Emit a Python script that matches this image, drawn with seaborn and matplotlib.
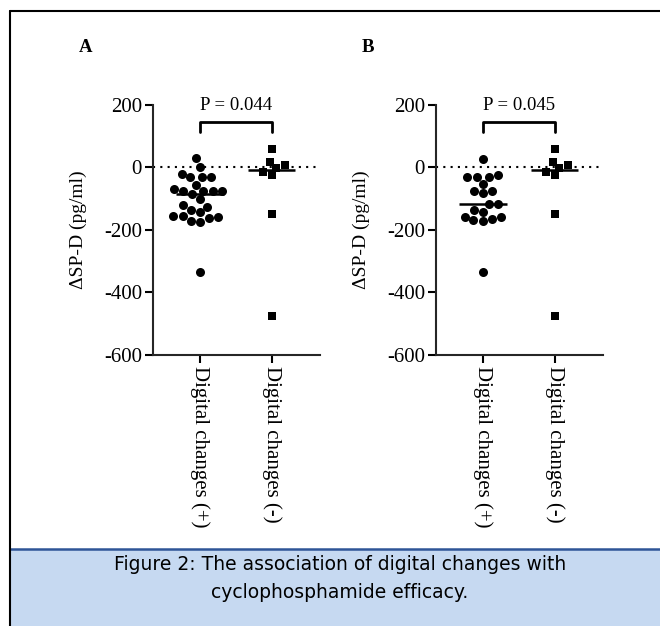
import numpy as np
import pandas as pd
import seaborn as sns
import matplotlib.pyplot as plt
from matplotlib.patches import Rectangle
from matplotlib.lines import Line2D

# categories and values (pg/ml)
groups = ['Digital changes (+)', 'Digital changes (-)']

a_pos = [29, 3, -22, -32, -32, -32, -55, -68, -74, -74, -74, -74, -86, -101,
         -119, -126, -137, -144, -154, -154, -160, -162, -170, -173, -333]
a_neg = [59, 18, 8, -1, -14, -25, -149, -475]

b_pos = [28, -23, -30, -30, -30, -52, -76, -76, -82, -116, -118, -135, -141,
         -157, -157, -165, -168, -170, -333]
b_neg = [59, 18, 8, -1, -14, -25, -149, -475]

p_labels = ['P = 0.044', 'P = 0.045']
panel_letters = ['A', 'B']
yticks = [-600, -400, -200, 0, 200]

sns.set_style('ticks')
plt.rcParams['font.family'] = ['Liberation Serif', 'DejaVu Serif']
plt.rcParams['axes.linewidth'] = 1.5
plt.rcParams['axes.unicode_minus'] = False
plt.rcParams['text.color'] = 'black'
plt.rcParams['axes.labelcolor'] = 'black'

W, H = 660, 626
fig = plt.figure(figsize=(W / 100, H / 100), dpi=100)


def draw_panel(ax, pos, neg, ptext):
    df = pd.DataFrame({'group': [groups[0]] * len(pos) + [groups[1]] * len(neg),
                       'value': pos + neg})
    sns.swarmplot(data=df[df.group == groups[0]], x='group', y='value', order=groups,
                  marker='o', color='black', size=6.5, ax=ax, zorder=3)
    sns.swarmplot(data=df[df.group == groups[1]], x='group', y='value', order=groups,
                  marker='s', color='black', size=6.3, ax=ax, zorder=3)
    # median lines
    for i, g in enumerate(groups):
        med = df.loc[df.group == g, 'value'].median()
        ax.hlines(med, i - 0.33, i + 0.33, color='black', lw=1.8, zorder=4)
    ax.axhline(0, color='black', ls=(0, (1, 2.5)), lw=1.5, zorder=1)

    # significance bracket
    ax.plot([0, 0, 1, 1], [113, 145, 145, 113], color='black', lw=2, clip_on=False)
    ax.text(0.5, 197, ptext, ha='center', va='center', fontsize=13.5, clip_on=False)

    ax.set_ylim(-600, 200)
    ax.set_yticks(yticks)
    ax.set_xlim(-0.655, 1.675)
    ax.set_xticks([0, 1])
    ax.set_xticklabels(groups, rotation=270)
    ax.set_xlabel('')
    ax.set_ylabel('\u0394SP-D (pg/ml)', fontsize=14, labelpad=12)
    ax.tick_params(length=6, width=1.5, labelsize=15, colors='black', pad=2)
    sns.despine(ax=ax)


ax_lefts = [153, 436]
datasets = [(a_pos, a_neg), (b_pos, b_neg)]
for left, (pos, neg), ptext, letter in zip(ax_lefts, datasets, p_labels, panel_letters):
    ax = fig.add_axes([left / W, (H - 355) / H, 167 / W, 250 / H])
    draw_panel(ax, pos, neg, ptext)
    fig.text((left - 74) / W, 1 - 48 / H, letter, fontsize=13.5, weight='bold',
             ha='left', va='center')

# frame and caption box
fig.add_artist(Rectangle((10 / W, 0), 1 - 10 / W, 77 / H, transform=fig.transFigure,
                         facecolor='#c6d9f1', edgecolor='none'))
fig.add_artist(Line2D([10 / W, 1], [77 / H, 77 / H], transform=fig.transFigure,
                      color='#2f5597', lw=1.8))
fig.add_artist(Line2D([10 / W, 1], [1 - 11 / H, 1 - 11 / H], transform=fig.transFigure,
                      color='black', lw=1.5))
fig.add_artist(Line2D([10 / W, 10 / W], [0, 1 - 11 / H], transform=fig.transFigure,
                      color='black', lw=1.5))

fig.text(340 / W, 1 - 565 / H, 'Figure 2: The association of digital changes with',
         family='DejaVu Sans', fontsize=13.5, ha='center', va='center')
fig.text(340 / W, 1 - 592 / H, 'cyclophosphamide efficacy.',
         family='DejaVu Sans', fontsize=13.5, ha='center', va='center')

fig.savefig('out.png', dpi=100)
